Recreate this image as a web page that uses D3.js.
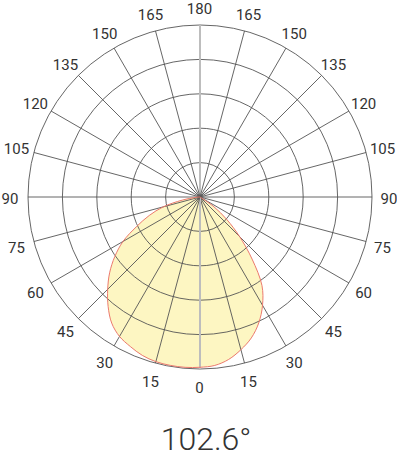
<!DOCTYPE html>
<html><head><meta charset="utf-8">
<script src="https://cdn.jsdelivr.net/npm/d3@7"></script>
<style>body{margin:0;background:#fff}svg{display:block}</style>
</head><body>
<svg id="c" width="397" height="458"></svg>
<script>
// Gamma angles (deg): negative = left half, positive = right half (0 = straight down)
const gammaAngles = [60,55,50,45,40,35,30,25,20,15,10,5,0,-5,-10,-15,-20,-25,-30,-35,-40,-45,-50,-55,-60,-65,-70,-75,-80,-85,-90];
// Relative intensity (% of outer ring)
const intensity =   [0,9.9,20.3,32.6,47.1,62.8,72.7,80.8,87.2,91.9,95.9,98.3,99,99.4,99.4,99.1,98,95.9,93.6,89.5,83.1,75.9,68.6,60.5,51.7,40.7,31.4,22.1,10.5,2.3,0];
const ringValues = [20,40,60,80,100];
const spokeAngles = d3.range(0,360,15);
const leftLabels = [0,15,30,45,60,75,90,105,120,135,150,165,180];
const rightLabels = [15,30,45,60,75,90,105,120,135,150,165];
const beamAngle = "102.6°";

const cx = 200, cy = 197, R = 172;
const svg = d3.select("#c");
const g = svg.append("g").attr("transform",`translate(${cx},${cy})`);
const r = d3.scaleLinear().domain([0,100]).range([0,R]);
// gamma -> radial angle (0 at top, clockwise)
const ang = gm => Math.PI - gm*Math.PI/180;

const pts = gammaAngles.map((a,i)=>({a, v:intensity[i]}));
const line = d3.lineRadial().angle(d=>ang(d.a)).radius(d=>r(d.v)).curve(d3.curveCatmullRom);
g.append("path").attr("d", line(pts)+"Z").attr("fill","#fdf6c2").attr("stroke","none");

// rings
g.selectAll("circle.ring").data(ringValues).join("circle")
  .attr("r",d=>r(d)).attr("fill","none").attr("stroke","#555").attr("stroke-width",0.9);
// spokes
spokeAngles.forEach(a=>{
  const t = a*Math.PI/180;
  const vert = (a===0||a===180);
  g.append("line").attr("x1",0).attr("y1",0)
   .attr("x2",R*Math.sin(t)).attr("y2",-R*Math.cos(t))
   .attr("stroke", vert?"#bdbdbd":"#555").attr("stroke-width", vert?2:0.9);
});
g.append("path").attr("d", line(pts)+"Z").attr("fill","none").attr("stroke","#ec7a6e").attr("stroke-width",1);

// labels
const LR = 189.5;
const lab = g.append("g").attr("transform","translate(-0.5,1.5)")
  .attr("font-family","Roboto, sans-serif").attr("font-size","15px").attr("fill","#333")
  .attr("text-anchor","middle").attr("dominant-baseline","central");
leftLabels.forEach(v=>{
  const t = ang(-v);
  lab.append("text").attr("x",LR*Math.sin(t)).attr("y",-LR*Math.cos(t)).text(v);
});
rightLabels.forEach(v=>{
  const t = ang(v);
  lab.append("text").attr("x",LR*Math.sin(t)).attr("y",-LR*Math.cos(t)).text(v);
});
svg.append("text").attr("x",206).attr("y",450).attr("text-anchor","middle")
  .attr("font-family","Roboto, sans-serif").attr("font-weight",300).attr("font-size","32px").attr("fill","#333").text(beamAngle);
</script>
</body></html>
